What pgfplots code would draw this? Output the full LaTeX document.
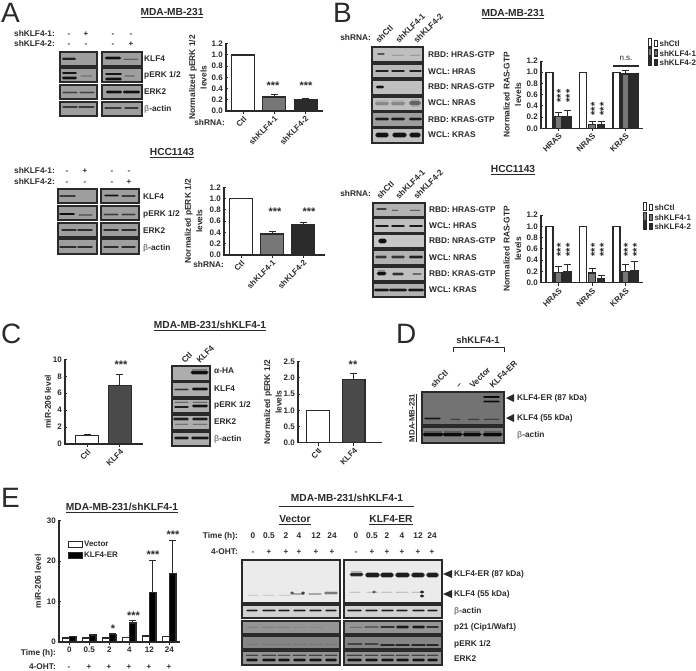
\documentclass[border=0pt]{standalone}
\usepackage{pgfplots}
\pgfplotsset{compat=1.18}
\usepackage{fontspec}
\setmainfont{Liberation Sans}
\definecolor{ink}{HTML}{2A2A2A}
\definecolor{midbar}{HTML}{777777}
\definecolor{darkbar}{HTML}{2B2B2B}
\definecolor{cbar}{HTML}{4A4A4A}
\newcommand\fs[1]{\fontsize{#1}{#1}\selectfont}
\newcommand\bt{{\color{gray}β}}
\tikzset{
 lab/.style={font=\bfseries\fs{8.3},text=ink,inner sep=0pt,anchor=mid west},
 labr/.style={font=\bfseries\fs{8.3},text=ink,inner sep=0pt,anchor=mid east},
 labc/.style={font=\bfseries\fs{8.3},text=ink,inner sep=0pt,anchor=mid},
 ttl/.style={font=\bfseries\fs{10.2},text=ink,inner sep=0pt,anchor=mid},
 big/.style={font=\fs{28},text=ink,inner sep=0pt,anchor=base west},
 star/.style={font=\bfseries\fs{11},text=ink,inner sep=0pt,anchor=mid,yshift=-3.2pt},
 vstar/.style={font=\bfseries\fs{11},text=ink,inner sep=0pt,anchor=mid,xshift=3.2pt,rotate=90},
}
\newcommand\blot[5]{\draw[draw=ink,line width=1.1pt,fill=#5] (#1,#3) rectangle (#2,#4);}
\newcommand\bnd[5]{%
 \draw[black,opacity=#5*0.3,line width={#4*1.8pt}] (#1,#3)--(#2,#3);
 \draw[black,line cap=round,opacity=#5*0.9,line width={#4*1pt}] (#1,#3)--(#2,#3);}
\newcommand\lanes[4]{\foreach \a/\b in {#4}{\bnd{\a}{\b}{#1}{#2}{#3}}}
\newcommand\signs[3]{\foreach \a/\s in {#2}{\node[labc,font=\bfseries\fs{#3}] at (\a,#1) {\s};}}
\pgfplotsset{
 bfig/.style={scale only axis,clip=false,ymin=0,
  axis x line=bottom,axis y line=left,
  axis line style={-,line width=1.3pt,color=ink},
  major tick length=3pt,
  every tick/.style={line width=1pt,color=ink},
  tick label style={font=\bfseries\fs{8},text=ink},
  /pgf/number format/assume math mode=true,
  yticklabel style={/pgf/number format/fixed,/pgf/number format/fixed zerofill,/pgf/number format/precision=1,inner sep=1.5pt},
  xticklabel style={inner sep=1pt},
  every axis plot/.append style={line width=1.3pt,draw=ink},
  error bars/y dir=plus,error bars/y explicit,
  error bars/error bar style={line width=1pt,color=ink},
  error bars/error mark options={line width=1pt,color=ink,mark size=3.5pt,rotate=90},
  legend image code/.code={\draw[#1,line width=1pt] (0pt,-2.8pt) rectangle (8.5pt,2.8pt);},
 },
 rotx/.style={xticklabel style={rotate=45,anchor=north east,inner sep=1pt}},
 ylab/.style={every axis y label/.style={rotate=90,anchor=center,align=center,
   at={(axis description cs:#1,0.5)},font=\bfseries\fontsize{8.4}{11.5}\selectfont,text=ink}},
 leg/.style={legend cell align=left,
  legend style={draw=none,fill=none,inner sep=0pt,outer sep=0pt,font=\bfseries\fs{8},text=ink,
  nodes={inner sep=0.4pt},/tikz/row sep=-1.2pt,/tikz/column sep=0.8pt}},
}
\begin{document}
\begin{tikzpicture}
\useasboundingbox (0pt,0pt) rectangle (696pt,-670pt);
%%%%% Blots and texts
\begin{scope}[x=1pt,y=-1pt]
\node[big] at (1,22) {A};
\node[big] at (333,22) {B};
\node[big] at (1,343) {C};
\node[big] at (396,343) {D};
\node[big] at (1,507) {E};
% ---- A top
\node[ttl] at (172,13) {\underline{MDA-MB-231}};
\node[labr] at (55,34) {shKLF4-1:};
\node[labr] at (55,44) {shKLF4-2:};
\signs{34}{69/-,86/+,113/-,131/-}{8}
\signs{44}{69/-,86/-,113/-,131/+}{8}
\foreach \p/\q in {52/66,68/82,85/99,102/116}{\blot{60}{97}{\p}{\q}{black!38}\blot{102}{142}{\p}{\q}{black!38}}
\lanes{58.5}{2}{.8}{63/75}\lanes{58}{2.6}{.95}{106/120}\lanes{59}{1}{.35}{124/138}
\lanes{73}{1.6}{.9}{63/76}\lanes{78}{2}{.95}{63/76}\lanes{76}{1.5}{.15}{81/92}
\lanes{74}{1.6}{.9}{106/121}\lanes{79}{1.8}{.95}{106/121}\lanes{76}{1.5}{.2}{125/134}
\lanes{92.5}{1.3}{.55}{63/77,80/94}\lanes{92}{2.4}{.95}{107/121,124/139}
\lanes{107}{1.2}{.6}{63/77,79/94}\lanes{108}{1.3}{.6}{105/121,125/138}
\node[lab] at (144,59) {KLF4};\node[lab] at (144,75) {pERK 1/2};\node[lab] at (144,92) {ERK2};\node[lab] at (144,109) {\bt-actin};
\node[star] at (273,84) {***};\node[star] at (306,84) {***};
\node[labr] at (225,123) {shRNA:};
% ---- A bottom
\node[ttl] at (172,153) {\underline{HCC1143}};
\node[labr] at (55,171) {shKLF4-1:};
\node[labr] at (55,182) {shKLF4-2:};
\signs{171}{67/-,85/+,112/-,129/-}{8}
\signs{182}{67/-,85/-,112/-,129/+}{8}
\foreach \p/\q in {189/203,206/220,223/237,239/254}{\blot{58}{97}{\p}{\q}{black!38}\blot{101}{139}{\p}{\q}{black!38}}
\lanes{196}{1.6}{.6}{60/75}\lanes{195.5}{1.8}{.95}{105/118}\lanes{196}{1.3}{.6}{122/135}
\lanes{214}{1.6}{.95}{60/74}\lanes{215}{1.2}{.3}{79/92}\lanes{214.5}{1.2}{.6}{104/118,122/135}
\lanes{230}{1.5}{.7}{62/76,78/92,104/118,122/136}
\lanes{247}{1.4}{.7}{60/76,78/92,104/118,122/135}
\node[lab] at (143,197) {KLF4};\node[lab] at (143,214) {pERK 1/2};\node[lab] at (143,231) {ERK2};\node[lab] at (143,248) {\bt-actin};
\node[star] at (275,210) {***};\node[star] at (309,210) {***};
\node[labr] at (224,265) {shRNA:};
% ---- B top
\node[ttl] at (513,14) {\underline{MDA-MB-231}};
\node[labr] at (371,38) {shRNA:};
\foreach \x/\t in {377/shCtl,397/shKLF4-1,415/shKLF4-2}{\node[lab,rotate=45] at (\x,42) {\t};}
\blot{372}{423}{47}{62}{black!25}\blot{372}{423}{64}{78}{black!28}\blot{372}{423}{80}{95}{black!25}
\blot{372}{423}{97}{111}{black!25}\blot{372}{423}{112}{127}{black!38}\blot{372}{423}{128}{143}{black!25}
\lanes{54}{1.4}{.5}{378/384}\lanes{55}{1}{.15}{392/404,410/420}
\lanes{71}{1.4}{.85}{376/388,392/404,410/421}
\lanes{87}{2.4}{.95}{377/383}
\lanes{103}{3}{.25}{376/388,392/404}\lanes{103}{4}{.45}{411/419}
\lanes{119}{2.6}{.85}{376/388,392/404,410/421}
\lanes{135}{3.2}{.95}{377/387,394/405,411/419}
\foreach \y/\t in {55/HRAS-GTP,87/NRAS-GTP,120/KRAS-GTP}{\node[lab] at (428,\y) {RBD: \t};}
\foreach \y/\t in {72/HRAS,103/NRAS,135/KRAS}{\node[lab] at (428,\y) {WCL: \t};}
\foreach \x/\y in {558.5/96,567.5/96,592.5/109,601.5/109}{\node[vstar] at (\x,\y) {***};}
\draw[ink,line width=1.1pt] (613,66)--(639,66);
\node[labc,font=\fs{8}] at (626,58) {n.s.};
% ---- B bottom
\node[ttl] at (513,170) {\underline{HCC1143}};
\node[labr] at (371,194) {shRNA:};
\foreach \x/\t in {378/shCtl,397/shKLF4-1,415/shKLF4-2}{\node[lab,rotate=45] at (\x,198) {\t};}
\blot{373}{425}{203}{217}{black!30}\blot{373}{425}{218}{233}{black!25}\blot{373}{425}{234}{248}{black!22}
\blot{373}{425}{250}{265}{black!30}\blot{373}{425}{267}{281}{black!25}\blot{373}{425}{283}{297}{black!30}
\lanes{209}{1.4}{.6}{377/386}\lanes{210}{1}{.4}{392/398,410/420}
\lanes{226}{1.6}{.9}{376/388,392/404,410/422}
\lanes{241}{3.2}{.98}{380/385}
\lanes{257}{1.8}{.7}{376/386,392/404}\lanes{257}{2.6}{.85}{410/422}
\lanes{273}{3}{.98}{378/385}\lanes{274}{1.8}{.75}{393/403}\lanes{274}{1.3}{.4}{413/421}
\lanes{290}{2.1}{.9}{375/388,390/406,409/423}
\foreach \y/\t in {210/HRAS-GTP,241/NRAS-GTP,274/KRAS-GTP}{\node[lab] at (429,\y) {RBD: \t};}
\foreach \y/\t in {226/HRAS,258/NRAS,290/KRAS}{\node[lab] at (429,\y) {WCL: \t};}
\foreach \x in {558.5,567.5,592.5,601.5,625.5,634.5}{\node[vstar] at (\x,250) {***};}
% ---- C
\node[ttl] at (210,326) {\underline{MDA-MB-231/shKLF4-1}};
\foreach \p/\q in {366/381,382/397,399/413,415/430,432/446}{\blot{172}{210}{\p}{\q}{black!32}}
\node[lab,rotate=45] at (183,362) {Ctl};\node[lab,rotate=45] at (198,362) {KLF4};
\lanes{372}{3}{.95}{192/207}
\lanes{389.5}{1.4}{.7}{175/188}\lanes{389}{2.2}{.95}{193/207}
\lanes{402}{1}{.35}{175/188,193/207}\lanes{407}{1.5}{.85}{175/188}\lanes{406}{2}{.95}{193/207}
\lanes{419}{1.8}{.85}{174/188,193/207}\lanes{424}{1}{.3}{175/188,193/207}
\lanes{438}{1.9}{.9}{175/188,192/208}
\node[lab] at (214,371) {α-HA};\node[lab] at (214,389) {KLF4};\node[lab] at (214,405) {pERK 1/2};\node[lab] at (214,422) {ERK2};\node[lab] at (214,439) {\bt-actin};
\node[star] at (121,363) {***};\node[star] at (353,363) {**};
% ---- D
\node[ttl,font=\bfseries\fs{9.5}] at (478,341) {shKLF4-1};
\draw[ink,line width=.8pt] (453,352)--(453,347)--(504,347)--(504,352);
\foreach \x/\t in {432/shCtl,457/–,471/Vector,491/KLF4-ER}{\node[lab,rotate=45] at (\x,387) {\t};}
\blot{422}{504}{392}{425}{black!55}\blot{422}{504}{427}{443}{black!50}
\lanes{397}{1.6}{.95}{484/499}\lanes{401.5}{1.6}{.95}{484/499}
\lanes{418.5}{1.7}{.85}{425/440}\lanes{419}{1}{.4}{451/460,468/479,484/499}
\lanes{434}{3}{.98}{424/442,444/461,464/480,484/501}
\node[labc,rotate=90,font=\bfseries\fs{7.8}] at (412,418) {\underline{MDA-MB-231}};
\foreach \y in {398,418}{\fill[ink] (506,\y)--(514,\y-4)--(514,\y+4)--cycle;}
\node[lab] at (517,398) {KLF4-ER (87 kDa)};\node[lab] at (517,418) {KLF4 (55 kDa)};\node[lab] at (517,435) {\bt-actin};
% ---- E chart text
\node[ttl] at (122,508) {\underline{MDA-MB-231/shKLF4-1}};
\node[star] at (113,627) {*};\node[star] at (133.5,614) {***};\node[star] at (153,553) {***};\node[star] at (173,533) {***};
\node[labr] at (56,653) {Time (h):};
\node[labr] at (56,667) {4-OHT:};
\signs{667}{69/-,89/+,109/+,129/+,149/+,169/+}{8}
% ---- E blots
\node[ttl] at (347,499) {MDA-MB-231/shKLF4-1};
\draw[ink,line width=1pt] (279,506)--(414,506);
\node[ttl] at (295,520) {\underline{Vector}};
\node[ttl] at (391,520) {\underline{KLF4-ER}};
\node[labr] at (238,536) {Time (h):};
\node[labr] at (238,552) {4-OHT:};
\foreach \x/\t in {253/0,269/0.5,286/2,299/4,316/12,332/24,356/0,372/0.5,387/2,402/4,418/12,432/24}{\node[labc] at (\x,536) {\t};}
\signs{552}{253/-,269/+,286/+,299/+,316/+,332/+,356/-,372/+,387/+,402/+,418/+,432/+}{8}
\blot{242}{340}{560}{603}{black!8}\blot{344}{442}{560}{603}{black!8}
\foreach \p/\q/\c in {605/618/black!18,621/634/black!42,636/649/black!48,651/665/black!42}{\blot{242}{340}{\p}{\q}{\c}\blot{344}{442}{\p}{\q}{\c}}
\lanes{595}{1}{.1}{248/258,263/274,279/291}
\lanes{594}{1.3}{.25}{293/304,309/321}\lanes{593}{1.8}{.45}{325/337}
\bnd{291}{293}{593}{2}{.6}\bnd{302}{304}{593}{2}{.7}
\lanes{574}{3}{.85}{351/362}\lanes{575}{3.4}{.92}{367/378,382/392,397/408,413/423,428/437}
\lanes{592}{1}{.15}{350/360,367/378,381/392,396/408,412/424}
\bnd{373}{375}{592}{2}{.5}\bnd{421}{423}{592}{2.4}{.85}\bnd{421}{423}{596}{2.4}{.9}
\lanes{610.5}{1.6}{.9}{247/257,263/275,279/289,294/305,310/321,326/336,348/361,366/377,382/393,397/407,413/424,428/437}
\lanes{627}{1}{.1}{247/258,262/276,278/290}\lanes{627}{1}{.05}{293/306,309/322}
\lanes{627}{1}{.2}{350/362}\lanes{627}{1.2}{.3}{365/378}\lanes{627}{1.6}{.65}{381/394}\lanes{627}{2}{.85}{397/408,413/424}\lanes{627}{1.5}{.65}{427/438}
\lanes{644}{1}{.08}{247/258,262/276,278/290,293/306,309/322,325/337}
\lanes{644}{1.3}{.45}{348/362,365/378}\lanes{645}{1.6}{.7}{381/394,396/409,412/425,427/438}
\lanes{655}{.9}{.5}{246/258,262/276,278/290,293/306,309/322,325/337,347/362,365/378,381/394,396/409,412/425,427/438}
\lanes{660}{2}{.9}{247/257,263/275,279/289,294/305,310/321,326/336,348/361,366/377,382/393,397/408,413/424,428/437}
\foreach \y in {574,594}{\fill[ink] (443,\y)--(452,\y-4)--(452,\y+4)--cycle;}
\node[lab] at (454,574) {KLF4-ER (87 kDa)};\node[lab] at (454,594) {KLF4 (55 kDa)};
\node[lab] at (454,611) {\bt-actin};\node[lab] at (454,627) {p21 (Cip1/Waf1)};\node[lab] at (454,644) {pERK 1/2};\node[lab] at (454,659) {ERK2};
\end{scope}
%%%%% A top chart
\begin{axis}[bfig,rotx,ylab=-0.289,at={(226pt,-111pt)},anchor=south west,width=97pt,height=67.3pt,
 ymax=1.2,xmin=-0.55,xmax=2.58,ybar,bar shift=0pt,bar width=23pt,xtick={0,1,2},xticklabels={Ctl,shKLF4-1,shKLF4-2},
 ytick={0,0.2,0.4,0.6,0.8,1,1.2},ylabel={Normalized pERK 1/2\\levels}]
\addplot[fill=white] coordinates {(0,1)};
\addplot[fill=midbar,error bars/.cd,y dir=plus,y explicit] coordinates {(1,0.25) +- (0,0.05)};
\addplot[fill=darkbar,error bars/.cd,y dir=plus,y explicit] coordinates {(2.03,0.2) +- (0,0.02)};
\end{axis}
%%%%% A bottom chart
\begin{axis}[bfig,rotx,ylab=-0.30,at={(224pt,-255pt)},anchor=south west,width=101pt,height=67.7pt,
 ymax=1.2,xmin=-0.55,xmax=2.71,ybar,bar shift=0pt,bar width=23pt,xtick={0,1,2},xticklabels={Ctl,shKLF4-1,shKLF4-2},
 ytick={0,0.2,0.4,0.6,0.8,1,1.2},ylabel={Normalized pERK 1/2\\levels}]
\addplot[fill=white] coordinates {(0,1)};
\addplot[fill=midbar,error bars/.cd,y dir=plus,y explicit] coordinates {(1,0.37) +- (0,0.04)};
\addplot[fill=darkbar,error bars/.cd,y dir=plus,y explicit] coordinates {(2,0.54) +- (0,0.04)};
\end{axis}
%%%%% B top chart
\begin{axis}[bfig,rotx,leg,ylab=-0.28,at={(541pt,-128.3pt)},anchor=south west,width=102pt,height=67.3pt,
 ymax=1.2,xmin=-0.52,xmax=2.52,ybar=2pt,bar width=7pt,xtick={0,1,2},xticklabels={HRAS,NRAS,KRAS},
 ytick={0,0.2,0.4,0.6,0.8,1,1.2},ylabel={Normalized RAS-GTP\\levels},
 legend style={at={(1.05,1.345)},anchor=north west}]
\addplot[fill=white] coordinates {(0,1) (1,1) (2,1)};
\addplot[fill=midbar,error bars/.cd,y dir=plus,y explicit] coordinates {(0,0.21) +- (0,0.07) (1,0.07) +- (0,0.05) (2,0.97) +- (0,0.06)};
\addplot[fill=darkbar,error bars/.cd,y dir=plus,y explicit] coordinates {(0,0.2) +- (0,0.11) (1,0.07) +- (0,0.05) (2,0.97) +- (0,0.01)};
\legend{shCtl,shKLF4-1,shKLF4-2}
\end{axis}
%%%%% B bottom chart
\begin{axis}[bfig,rotx,leg,ylab=-0.28,at={(541pt,-282.7pt)},anchor=south west,width=102pt,height=67.7pt,
 ymax=1.2,xmin=-0.52,xmax=2.52,ybar=2pt,bar width=7pt,xtick={0,1,2},xticklabels={HRAS,NRAS,KRAS},
 ytick={0,0.2,0.4,0.6,0.8,1,1.2},ylabel={Normalized RAS-GTP\\levels},
 legend style={at={(1.0,1.19)},anchor=north west}]
\addplot[fill=white] coordinates {(0,1) (1,1) (2,1)};
\addplot[fill=midbar,error bars/.cd,y dir=plus,y explicit] coordinates {(0,0.18) +- (0,0.1) (1,0.17) +- (0,0.08) (2,0.2) +- (0,0.13)};
\addplot[fill=darkbar,error bars/.cd,y dir=plus,y explicit] coordinates {(0,0.2) +- (0,0.12) (1,0.07) +- (0,0.06) (2,0.21) +- (0,0.16)};
\legend{shCtl,shKLF4-1,shKLF4-2}
\end{axis}
%%%%% C chart 1
\begin{axis}[bfig,rotx,ylab=-0.218,at={(65pt,-444pt)},anchor=south west,width=78pt,height=84.7pt,
 ymax=10,xmin=-0.67,xmax=1.7,ybar,bar shift=0pt,bar width=22.5pt,xtick={0,1},xticklabels={Ctl,KLF4},
 ytick={0,2,4,6,8,10},yticklabel style={/pgf/number format/precision=0},ylabel={miR-206 level}]
\addplot[fill=white,error bars/.cd,y dir=plus,y explicit] coordinates {(0,1.0) +- (0,0.12)};
\addplot[fill=cbar,error bars/.cd,y dir=plus,y explicit] coordinates {(1,6.9) +- (0,1.3)};
\end{axis}
%%%%% C chart 3
\begin{axis}[bfig,rotx,ylab=-0.30,at={(298pt,-442.7pt)},anchor=south west,width=83.7pt,height=81pt,
 ymax=2.5,xmin=-0.56,xmax=1.78,ybar,bar shift=0pt,bar width=22.5pt,xtick={0,1},xticklabels={Ctl,KLF4},
 ytick={0,0.5,1,1.5,2,2.5},ylabel={Normalized pERK 1/2\\levels}]
\addplot[fill=white] coordinates {(0,1.0)};
\addplot[fill=cbar,error bars/.cd,y dir=plus,y explicit] coordinates {(1,1.95) +- (0,0.2)};
\end{axis}
%%%%% E chart
\begin{axis}[bfig,leg,ylab=-0.174,at={(59pt,-642pt)},anchor=south west,width=121pt,height=121.3pt,
 ymax=30,xmin=-0.515,xmax=5.535,ybar=0pt,bar width=6.8pt,xtick={0,1,2,3,4,5},xticklabels={0,0.5,2,4,12,24},
 ytick={0,10,20,30},yticklabel style={/pgf/number format/precision=0},ylabel={miR-206 level},
 legend image code/.code={\draw[#1,line width=1pt] (0pt,-3pt) rectangle (14pt,3pt);},
 legend style={at={(0.074,0.837)},anchor=north west,/tikz/row sep=3pt},xticklabel style={yshift=-1pt}]
\addplot[fill=white,error bars/.cd,y dir=plus,y explicit] coordinates {(0,1) +- (0,0.1) (1,0.9) +- (0,0.1) (2,0.9) +- (0,0.1) (3,1.1) +- (0,0.1) (4,1.4) +- (0,0.2) (5,1.3) +- (0,0.1)};
\addplot[fill=black,error bars/.cd,y dir=plus,y explicit] coordinates {(0,1.3) +- (0,0.15) (1,1.7) +- (0,0.2) (2,1.9) +- (0,0.2) (3,4.7) +- (0,0.6) (4,12.3) +- (0,7.8) (5,17) +- (0,8.2)};
\legend{Vector,KLF4-ER}
\end{axis}
\end{tikzpicture}
\end{document}
